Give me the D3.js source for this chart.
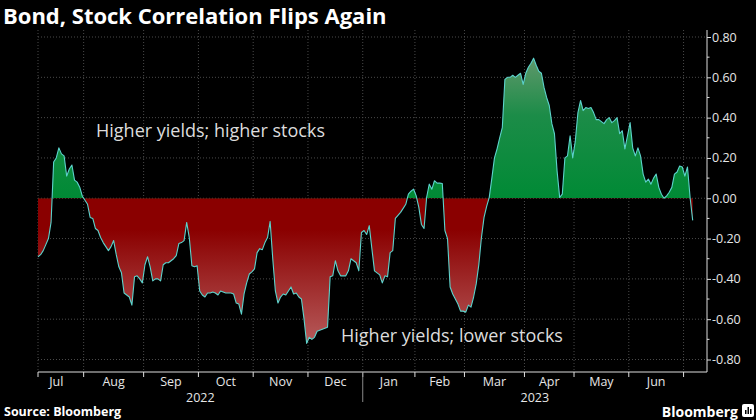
<!DOCTYPE html>
<html>
<head>
<meta charset="utf-8">
<script src="https://cdn.jsdelivr.net/npm/d3@7"></script>
<style>
  body { margin: 0; background: #000; }
  svg { display: block; }
</style>
</head>
<body>
<div id="chart"></div>
<script>
// daily bond/stock correlation, one value per trading day, Jul 2022 - early Jul 2023
let corr = [
  -0.29, -0.28, -0.26, -0.23, -0.20, -0.12, 0.18, 0.20, 0.25, 0.22, 0.21, 0.11,
  0.145, 0.165, 0.09, 0.08, 0.055, 0.01, -0.01, -0.03, -0.095, -0.10, -0.15, -0.16,
  -0.195, -0.22, -0.24, -0.26, -0.24, -0.21, -0.28, -0.34, -0.37, -0.47, -0.48, -0.49,
  -0.53, -0.39, -0.385, -0.40, -0.42, -0.33, -0.29, -0.34, -0.41, -0.40, -0.40, -0.41,
  -0.33, -0.32, -0.32, -0.31, -0.30, -0.285, -0.225, -0.22, -0.21, -0.12, -0.195, -0.335,
  -0.34, -0.335, -0.46, -0.48, -0.49, -0.47, -0.47, -0.465, -0.47, -0.48, -0.46, -0.465,
  -0.47, -0.47, -0.47, -0.475, -0.52, -0.525, -0.575, -0.475, -0.42, -0.376, -0.365, -0.35,
  -0.27, -0.25, -0.255, -0.22, -0.195, -0.115, -0.30, -0.46, -0.52, -0.49, -0.475, -0.48,
  -0.46, -0.44, -0.475, -0.47, -0.49, -0.50, -0.60, -0.72, -0.69, -0.70, -0.69, -0.66,
  -0.655, -0.65, -0.645, -0.64, -0.39, -0.385, -0.31, -0.36, -0.385, -0.385, -0.385, -0.36,
  -0.30, -0.31, -0.32, -0.36, -0.17, -0.16, -0.18, -0.136, -0.25, -0.36, -0.37, -0.38,
  -0.42, -0.385, -0.39, -0.27, -0.26, -0.10, -0.085, -0.07, -0.05, -0.03, 0.02, 0.035,
  0.045, 0.012, -0.045, -0.13, -0.15, 0.005, 0.07, 0.045, 0.087, 0.075, 0.075, 0.073,
  -0.16, -0.20, -0.44, -0.475, -0.50, -0.525, -0.56, -0.56, -0.565, -0.53, -0.54, -0.49,
  -0.425, -0.33, -0.195, -0.095, -0.04, 0.004, 0.10, 0.20, 0.245, 0.30, 0.35, 0.59,
  0.60, 0.60, 0.61, 0.60, 0.61, 0.62, 0.565, 0.62, 0.65, 0.67, 0.695, 0.66,
  0.63, 0.62, 0.55, 0.50, 0.46, 0.37, 0.32, 0.136, 0.004, 0.02, 0.20, 0.21,
  0.31, 0.20, 0.285, 0.425, 0.485, 0.435, 0.45, 0.445, 0.45, 0.425, 0.39, 0.39,
  0.38, 0.37, 0.39, 0.40, 0.375, 0.385, 0.40, 0.32, 0.335, 0.245, 0.31, 0.375,
  0.25, 0.21, 0.25, 0.21, 0.12, 0.08, 0.095, 0.07, 0.10, 0.12, 0.054, 0.02,
  0.0, 0.012, 0.03, 0.054, 0.12, 0.13, 0.16, 0.155, 0.11, 0.155, 0.004, -0.11
];

// month names and the trading-day index where each month starts
let months = ["Jul", "Aug", "Sep", "Oct", "Nov", "Dec", "Jan", "Feb", "Mar", "Apr", "May", "Jun"];
let monthStart = [-3, 18, 41, 62, 83, 104, 125, 145, 164, 187, 206, 227, 248];
let years = ["2022", "2023"];
let yTicks = [-0.8, -0.6, -0.4, -0.2, 0, 0.2, 0.4, 0.6, 0.8];

let width = 756;
let height = 420;

let plotLeft = 38;
let plotRight = 707;
let plotTop = 30;
let plotBot = 372;

let svg = d3
  .select("#chart")
  .append("svg")
  .attr("width", width)
  .attr("height", height)
  .style("background", "#000");

let xScale = d3
  .scaleLinear()
  .domain([0, corr.length - 1])
  .range([plotLeft, 692.7]);

let yScale = d3
  .scaleLinear()
  .domain([-0.8, 0.8])
  .range([359.5, 37]);

let y0 = yScale(0);

// gradients + clips
let defs = svg.append("defs");

let gGreen = defs.append("linearGradient")
  .attr("id", "gGreen")
  .attr("gradientUnits", "userSpaceOnUse")
  .attr("x1", 0).attr("x2", 0)
  .attr("y1", yScale(0.75)).attr("y2", y0);
gGreen.append("stop").attr("offset", 0).attr("stop-color", "#6c9a72");
gGreen.append("stop").attr("offset", 0.45).attr("stop-color", "#1c8c48");
gGreen.append("stop").attr("offset", 1).attr("stop-color", "#008a35");

let gRed = defs.append("linearGradient")
  .attr("id", "gRed")
  .attr("gradientUnits", "userSpaceOnUse")
  .attr("x1", 0).attr("x2", 0)
  .attr("y1", y0).attr("y2", yScale(-0.78));
gRed.append("stop").attr("offset", 0).attr("stop-color", "#8a0000");
gRed.append("stop").attr("offset", 0.2).attr("stop-color", "#8a0000");
gRed.append("stop").attr("offset", 1).attr("stop-color", "#bb6464");

defs.append("clipPath").attr("id", "clipPos")
  .append("rect")
  .attr("x", 0).attr("y", 0)
  .attr("width", width).attr("height", y0);

defs.append("clipPath").attr("id", "clipNeg")
  .append("rect")
  .attr("x", 0).attr("y", y0)
  .attr("width", width).attr("height", height - y0);

// grid
let grid = svg.append("g").attr("class", "grid");

grid.selectAll("line.h")
  .data(yTicks)
  .enter()
  .append("line")
  .attr("x1", plotLeft)
  .attr("x2", plotRight)
  .attr("y1", function(d) { return yScale(d); })
  .attr("y2", function(d) { return yScale(d); })
  .attr("stroke", "#4a4a4a")
  .attr("stroke-dasharray", "1,2");

let bounds = monthStart.slice(1);

grid.selectAll("line.v")
  .data([plotLeft].concat(bounds.map(function(d) { return xScale(d - 0.5); })))
  .enter()
  .append("line")
  .attr("x1", function(d) { return d; })
  .attr("x2", function(d) { return d; })
  .attr("y1", plotTop)
  .attr("y2", plotBot)
  .attr("stroke", "#4a4a4a")
  .attr("stroke-dasharray", "1,2");

// areas
let areaPos = d3.area()
  .x(function(d, i) { return xScale(i); })
  .y0(y0)
  .y1(function(d) { return yScale(d); });

svg.append("path")
  .datum(corr)
  .attr("d", areaPos)
  .attr("fill", "url(#gGreen)")
  .attr("clip-path", "url(#clipPos)");

svg.append("path")
  .datum(corr)
  .attr("d", areaPos)
  .attr("fill", "url(#gRed)")
  .attr("clip-path", "url(#clipNeg)");

let line = d3.line()
  .x(function(d, i) { return xScale(i); })
  .y(function(d) { return yScale(d); });

svg.append("path")
  .datum(corr)
  .attr("d", line)
  .attr("fill", "none")
  .attr("stroke", "#5cd3cc")
  .attr("stroke-width", 1.1)
  .attr("stroke-linejoin", "round");

// right axis
let yAxis = d3.axisRight(yScale)
  .tickValues(yTicks)
  .tickSize(4)
  .tickFormat(function(d) { return d.toFixed(2); });

let yAxisG = svg.append("g")
  .attr("transform", "translate(" + plotRight + ",0)")
  .call(yAxis);

yAxisG.select(".domain").remove();
yAxisG.selectAll("line").attr("stroke", "#ddd");
yAxisG.selectAll("text")
  .attr("fill", "#e6e6e6")
  .attr("x", 5)
  .style("font-family", "'Open Sans', sans-serif")
  .style("font-size", "12.5px");

// minor ticks
svg.selectAll("line.minor")
  .data([-0.7, -0.5, -0.3, -0.1, 0.1, 0.3, 0.5, 0.7])
  .enter()
  .append("line")
  .attr("x1", plotRight)
  .attr("x2", plotRight + 2.5)
  .attr("y1", function(d) { return yScale(d); })
  .attr("y2", function(d) { return yScale(d); })
  .attr("stroke", "#ddd");

svg.append("line")
  .attr("x1", plotRight).attr("x2", plotRight)
  .attr("y1", plotTop).attr("y2", plotBot)
  .attr("stroke", "#ddd");

// bottom axis
svg.append("line")
  .attr("x1", plotLeft).attr("x2", plotRight)
  .attr("y1", plotBot).attr("y2", plotBot)
  .attr("stroke", "#ddd");

svg.selectAll("line.mtick")
  .data([plotLeft].concat(bounds.map(function(d) { return xScale(d - 0.5); })))
  .enter()
  .append("line")
  .attr("x1", function(d) { return d; })
  .attr("x2", function(d) { return d; })
  .attr("y1", plotBot)
  .attr("y2", plotBot + 5)
  .attr("stroke", "#ddd");

svg.selectAll("text.month")
  .data(months)
  .enter()
  .append("text")
  .attr("x", function(d, i) {
    return (xScale(monthStart[i] - 0.5) + xScale(monthStart[i + 1] - 0.5)) / 2;
  })
  .attr("y", 386)
  .attr("text-anchor", "middle")
  .attr("fill", "#e6e6e6")
  .style("font-family", "'Open Sans', sans-serif")
  .style("font-size", "12.5px")
  .text(function(d) { return d; });

let janX = xScale(monthStart[6] - 0.5);

svg.append("line")
  .attr("x1", janX).attr("x2", janX)
  .attr("y1", plotBot).attr("y2", 402)
  .attr("stroke", "#888");

svg.selectAll("text.year")
  .data(years)
  .enter()
  .append("text")
  .attr("x", function(d, i) {
    return i === 0 ? (plotLeft + janX) / 2 : (janX + plotRight) / 2;
  })
  .attr("y", 402)
  .attr("text-anchor", "middle")
  .attr("fill", "#e6e6e6")
  .style("font-family", "'Open Sans', sans-serif")
  .style("font-size", "12.5px")
  .text(function(d) { return d; });

// annotations
svg.append("text")
  .attr("x", 96)
  .attr("y", 137)
  .attr("fill", "#dcdcdc")
  .style("font-family", "'Open Sans', sans-serif")
  .style("font-size", "18px")
  .text("Higher yields; higher stocks");

svg.append("text")
  .attr("x", 341)
  .attr("y", 342)
  .attr("fill", "#dcdcdc")
  .style("font-family", "'Open Sans', sans-serif")
  .style("font-size", "18px")
  .text("Higher yields; lower stocks");

// title + footer
svg.append("text")
  .attr("x", 3)
  .attr("y", 23.5)
  .attr("fill", "#fff")
  .style("font-family", "'Open Sans', sans-serif")
  .style("font-weight", "bold")
  .style("font-size", "22px")
  .text("Bond, Stock Correlation Flips Again");

svg.append("text")
  .attr("x", 4)
  .attr("y", 416)
  .attr("fill", "#fff")
  .style("font-family", "'Open Sans', sans-serif")
  .style("font-weight", "bold")
  .style("font-size", "12.5px")
  .text("Source: Bloomberg");

svg.append("text")
  .attr("x", 738)
  .attr("y", 417)
  .attr("text-anchor", "end")
  .attr("fill", "#fff")
  .style("font-family", "'Open Sans', sans-serif")
  .style("font-weight", "bold")
  .style("font-size", "14px")
  .text("Bloomberg");

let logo = svg.append("g").attr("transform", "translate(742,404)");
logo.append("rect")
  .attr("width", 12).attr("height", 13).attr("rx", 2)
  .attr("fill", "#fff");
logo.selectAll("rect.bar")
  .data([[3, 6, 4], [5.5, 3, 7], [8, 5, 5]])
  .enter()
  .append("rect")
  .attr("x", function(d) { return d[0]; })
  .attr("y", function(d) { return d[1]; })
  .attr("width", 1.5)
  .attr("height", function(d) { return d[2]; })
  .attr("fill", "#000");
</script>
</body>
</html>
